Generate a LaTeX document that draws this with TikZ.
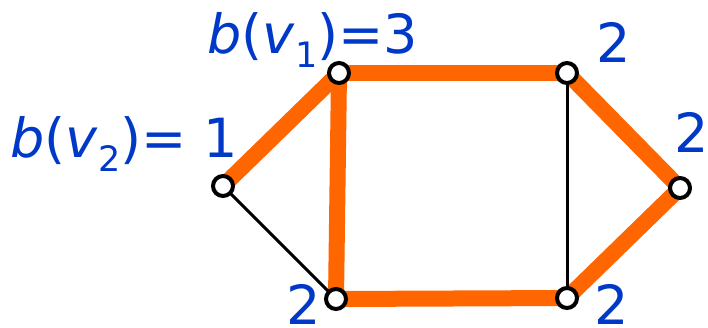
\documentclass[tikz,border=0pt]{standalone}
\usepackage{fontspec}
\setmainfont{DejaVu Sans}
\usetikzlibrary{backgrounds}
\definecolor{orng}{RGB}{255,102,0}
\definecolor{lblue}{RGB}{0,56,200}
\begin{document}
\begin{tikzpicture}[x=1pt,y=-1pt,
  vert/.style={circle,draw=black,fill=white,line width=4pt,minimum size=20pt,inner sep=0pt},
  hot/.style={draw=orng,line width=16pt},
  thin/.style={draw=black,line width=3pt},
  lbl/.style={text=lblue,anchor=base west,inner sep=0pt,font=\fontsize{54}{60}\selectfont}]
\useasboundingbox (0,0) rectangle (708,327);
\node[vert] (v2) at (223,186) {};
\node[vert] (v1) at (339,73) {};
\node[vert] (tr) at (567,73) {};
\node[vert] (r) at (680,188) {};
\node[vert] (br) at (567,298) {};
\node[vert] (bl) at (336,299) {};
\begin{scope}[on background layer]
\draw[hot] (v2.center) -- (v1.center);
\draw[hot] (v1.center) -- (tr.center);
\draw[hot] (v1.center) -- (bl.center);
\draw[hot] (bl.center) -- (br.center);
\draw[hot] (tr.center) -- (r.center);
\draw[hot] (r.center) -- (br.center);
\draw[thin] (v2.center) -- (bl.center);
\draw[thin] (tr.center) -- (br.center);
\end{scope}
\node[lbl] (l1) at (207,53) {\textit{b}(\textit{v}\raisebox{-14pt}{\fontsize{35}{35}\selectfont 1})=3};
\node[lbl] (l2) at (10,157) {\textit{b}(\textit{v}\raisebox{-14pt}{\fontsize{35}{35}\selectfont 2})= 1};
\node[lbl] (ltr) at (596,62) {2};
\node[lbl] (lr) at (674,152) {2};
\node[lbl] (lbr) at (594,324) {2};
\node[lbl] (lbl) at (286,324) {2};
\end{tikzpicture}
\end{document}
